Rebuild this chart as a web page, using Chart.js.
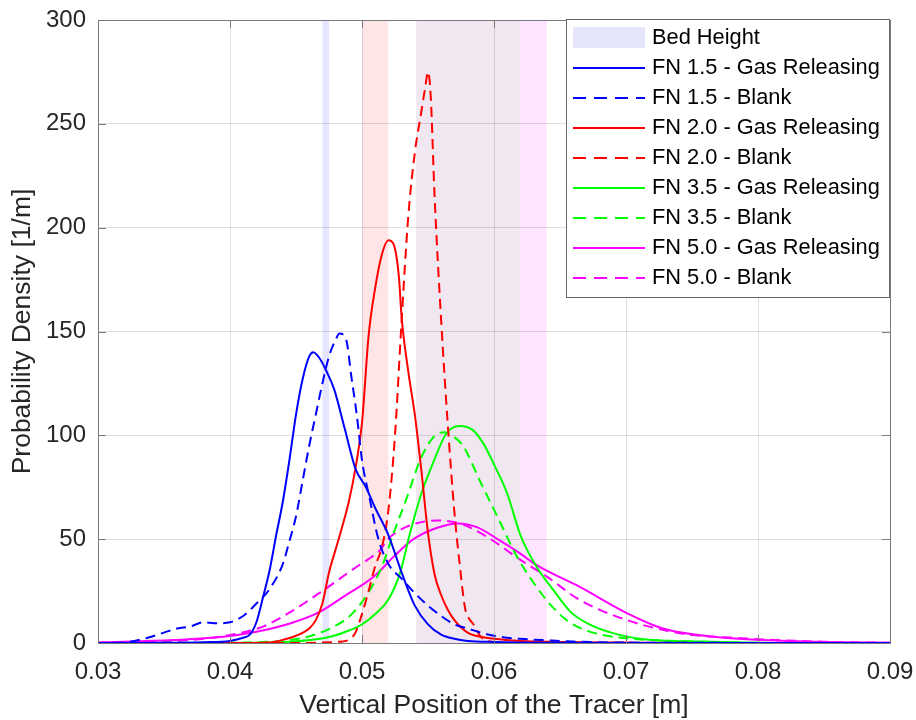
<!DOCTYPE html>
<html>
<head>
<meta charset="utf-8">
<script src="https://cdn.jsdelivr.net/npm/chart.js@4.4.1/dist/chart.umd.min.js"></script>
<style>
  html, body { margin: 0; padding: 0; background: #fff; }
  #wrap { width: 916px; height: 720px; }
</style>
</head>
<body>
<div id="wrap"><canvas id="pdfChart" width="916" height="720"></canvas></div>
<script>
// probability density of tracer vertical position, per FN and case

const fn15GasX = [0.030, 0.035, 0.038, 0.040, 0.041, 0.0415, 0.042, 0.0425, 0.043, 0.0435, 0.044, 0.0445, 0.045, 0.0455, 0.046, 0.0463, 0.0468, 0.0473, 0.0479, 0.0487, 0.0495, 0.0503, 0.051, 0.052, 0.053, 0.054, 0.055, 0.056, 0.057, 0.058, 0.060, 0.065, 0.070, 0.090];
const fn15GasY = [0, 0.1, 0.4, 1, 2.5, 4, 10, 22, 35, 52, 68, 88, 110, 127, 138, 140, 137, 131, 122, 103, 84, 75, 65, 52, 34, 18, 9, 4, 2, 1, 0.5, 0.1, 0, 0];

const fn15BlankX = [0.030, 0.032, 0.0337, 0.035, 0.036, 0.037, 0.038, 0.039, 0.040, 0.041, 0.042, 0.043, 0.044, 0.0445, 0.045, 0.0455, 0.046, 0.0465, 0.047, 0.0475, 0.048, 0.0483, 0.0488, 0.0492, 0.0496, 0.050, 0.0506, 0.0512, 0.052, 0.053, 0.054, 0.055, 0.056, 0.057, 0.058, 0.059, 0.060, 0.061, 0.062, 0.064, 0.066, 0.070, 0.090];
const fn15BlankY = [0, 0.3, 2.4, 5, 7, 8, 10, 9.5, 10, 13, 19, 26, 38, 49, 61, 78, 95, 110, 125, 138, 146, 149, 146, 128, 110, 88, 69, 51, 38, 31, 24, 18, 13, 9, 7, 5, 3.5, 2.5, 2, 1.3, 0.7, 0.2, 0];

const fn20GasX = [0.030, 0.040, 0.043, 0.044, 0.045, 0.046, 0.0465, 0.047, 0.0475, 0.048, 0.0485, 0.049, 0.0495, 0.050, 0.0505, 0.051, 0.0515, 0.052, 0.0524, 0.0528, 0.053, 0.0535, 0.054, 0.0545, 0.055, 0.0555, 0.056, 0.0565, 0.057, 0.058, 0.059, 0.060, 0.062, 0.065, 0.070, 0.075, 0.090];
const fn20GasY = [0, 0, 0.3, 1.5, 3.5, 7, 11, 19, 34, 45, 56, 68, 84, 106, 148, 171, 187, 194, 192, 176, 157, 131, 110, 83, 53, 33, 23, 16, 11, 5, 3, 2, 1, 0.5, 0.2, 0, 0];

const fn20BlankX = [0.030, 0.045, 0.048, 0.049, 0.0495, 0.050, 0.0505, 0.051, 0.0515, 0.052, 0.0525, 0.053, 0.0535, 0.054, 0.0545, 0.0548, 0.0550, 0.0552, 0.0555, 0.056, 0.0565, 0.057, 0.0574, 0.0578, 0.058, 0.0585, 0.059, 0.060, 0.062, 0.090];
const fn20BlankY = [0, 0, 0.5, 1.5, 5, 14, 25, 37, 46, 64, 100, 155, 205, 236, 256, 268, 275, 264, 215, 155, 105, 63, 38, 17, 13, 8.5, 3, 0.5, 0, 0];

const fn35GasX = [0.030, 0.0395, 0.0445, 0.0476, 0.049, 0.050, 0.051, 0.052, 0.0529, 0.0536, 0.0545, 0.0554, 0.0564, 0.0574, 0.0584, 0.0592, 0.060, 0.061, 0.062, 0.0632, 0.0645, 0.0658, 0.0673, 0.0695, 0.072, 0.0766, 0.082, 0.090];
const fn35GasY = [0, 0, 0.6, 3, 6, 9, 14, 21, 34, 52, 72, 87, 101, 104.5, 102.5, 96, 86, 72, 52, 37, 25.5, 15, 8.7, 3.9, 1.4, 0.6, 0, 0];

const fn35BlankX = [0.030, 0.0395, 0.0445, 0.0476, 0.0493, 0.0506, 0.0515, 0.0524, 0.0534, 0.0544, 0.0554, 0.0562, 0.0568, 0.0577, 0.0589, 0.0604, 0.0617, 0.063, 0.0642, 0.0655, 0.067, 0.069, 0.072, 0.0766, 0.082, 0.090];
const fn35BlankY = [0, 0.2, 1.4, 7, 14.4, 25.5, 36.7, 53, 70, 88, 99, 101.5, 100, 94.5, 78.5, 59, 42, 29, 19, 11, 6, 3, 1.4, 0.5, 0, 0];

const fn50GasX = [0.030, 0.0357, 0.0395, 0.042, 0.0446, 0.0468, 0.0486, 0.0509, 0.0524, 0.0539, 0.0557, 0.0573, 0.0587, 0.0604, 0.062, 0.0632, 0.0665, 0.0701, 0.0728, 0.0766, 0.0804, 0.085, 0.090];
const fn50GasY = [0.3, 1.4, 3, 5.4, 9.5, 15, 22.3, 32, 41.6, 50, 55.5, 57.6, 55.8, 49.5, 43, 37.6, 27, 14.3, 7, 3, 1.4, 0.5, 0.1];

const fn50BlankX = [0.030, 0.033, 0.037, 0.040, 0.0425, 0.0446, 0.0471, 0.0496, 0.0504, 0.0514, 0.0519, 0.0534, 0.0557, 0.0574, 0.0595, 0.062, 0.064, 0.0665, 0.0701, 0.0741, 0.0791, 0.085, 0.090];
const fn50BlankY = [0, 0.3, 1.4, 3.9, 7.9, 15, 25.5, 36.7, 40, 45, 49.6, 56, 59, 57.6, 51, 40, 32, 20.7, 11, 4.7, 2.2, 0.6, 0.1];

// bed height ranges (blue, red, magenta, green)
const bedStart = [0.0470, 0.0500, 0.0541, 0.0541];
const bedEnd = [0.0475, 0.0520, 0.0640, 0.0620];

const xTicks = [0.03, 0.04, 0.05, 0.06, 0.07, 0.08, 0.09];
const yTicks = [0, 50, 100, 150, 200, 250, 300];

const bedColors = ['rgba(0,0,255,0.1)', 'rgba(255,0,0,0.1)', 'rgba(255,0,255,0.1)', 'rgba(0,255,0,0.06)'];
const FONT = '"Liberation Sans", Arial, sans-serif';
Chart.defaults.font.family = FONT;

function pts(xs, ys) {
  return xs.map((x, i) => ({ x: x, y: ys[i] }));
}

function line(label, xs, ys, color, dashed) {
  return {
    label: label,
    data: pts(xs, ys),
    borderColor: color,
    backgroundColor: color,
    borderWidth: 2,
    borderDash: dashed ? [10, 6] : [],
    pointRadius: 0,
    fill: false,
    cubicInterpolationMode: 'monotone'
  };
}

const bedBands = {
  id: 'bedBands',
  beforeDraw(chart) {
    const ctx = chart.ctx, xs = chart.scales.x, a = chart.chartArea;
    ctx.save();
    for (let i = 0; i < bedStart.length; i++) {
      const x0 = xs.getPixelForValue(bedStart[i]);
      const x1 = xs.getPixelForValue(bedEnd[i]);
      ctx.fillStyle = bedColors[i];
      ctx.fillRect(x0, a.top, x1 - x0, a.bottom - a.top);
    }
    ctx.restore();
  }
};

const axesBox = {
  id: 'axesBox',
  afterDatasetsDraw(chart) {
    const ctx = chart.ctx, a = chart.chartArea;
    const xs = chart.scales.x, ys = chart.scales.y;
    ctx.save();
    ctx.strokeStyle = '#7a7a7a';
    ctx.lineWidth = 1;
    ctx.beginPath();
    xTicks.forEach(v => {
      const px = Math.round(xs.getPixelForValue(v)) + 0.5;
      ctx.moveTo(px, a.bottom); ctx.lineTo(px, a.bottom - 8);
      ctx.moveTo(px, a.top); ctx.lineTo(px, a.top + 8);
    });
    yTicks.forEach(v => {
      const py = Math.round(ys.getPixelForValue(v)) + 0.5;
      ctx.moveTo(a.left, py); ctx.lineTo(a.left + 8, py);
      ctx.moveTo(a.right, py); ctx.lineTo(a.right - 8, py);
    });
    ctx.stroke();
    ctx.strokeRect(Math.round(a.left) + 0.5, Math.round(a.top) + 0.5, Math.round(a.right - a.left), Math.round(a.bottom - a.top));
    ctx.restore();
  }
};

const boxLegend = {
  id: 'boxLegend',
  afterDraw(chart) {
    const ctx = chart.ctx, a = chart.chartArea;
    const w = 323, h = 278;
    const left = a.right - w - 1, top = a.top - 1;
    ctx.save();
    ctx.fillStyle = '#fff';
    ctx.fillRect(left, top, w, h);
    ctx.strokeStyle = '#666';
    ctx.lineWidth = 1;
    ctx.strokeRect(left + 0.5, top + 0.5, w, h);
    ctx.font = '21.8px ' + FONT;
    ctx.textBaseline = 'middle';
    const sx = left + 7, sw = 72, tx = left + 86;
    let y = top + 19;
    ctx.fillStyle = 'rgb(230,230,250)';
    ctx.fillRect(sx, y - 11, sw, 21);
    ctx.fillStyle = '#000';
    ctx.fillText('Bed Height', tx, y);
    chart.data.datasets.forEach(ds => {
      y += 30;
      ctx.strokeStyle = ds.borderColor;
      ctx.lineWidth = 2;
      ctx.setLineDash(ds.borderDash.length ? [13, 8] : []);
      ctx.beginPath();
      ctx.moveTo(sx, y); ctx.lineTo(sx + sw, y);
      ctx.stroke();
      ctx.setLineDash([]);
      ctx.fillStyle = '#000';
      ctx.fillText(ds.label, tx, y);
    });
    ctx.restore();
  }
};

new Chart(document.getElementById('pdfChart'), {
  type: 'line',
  data: {
    datasets: [
      line('FN 1.5 - Gas Releasing', fn15GasX, fn15GasY, '#0000ff', false),
      line('FN 1.5 - Blank', fn15BlankX, fn15BlankY, '#0000ff', true),
      line('FN 2.0 - Gas Releasing', fn20GasX, fn20GasY, '#ff0000', false),
      line('FN 2.0 - Blank', fn20BlankX, fn20BlankY, '#ff0000', true),
      line('FN 3.5 - Gas Releasing', fn35GasX, fn35GasY, '#00ff00', false),
      line('FN 3.5 - Blank', fn35BlankX, fn35BlankY, '#00ff00', true),
      line('FN 5.0 - Gas Releasing', fn50GasX, fn50GasY, '#ff00ff', false),
      line('FN 5.0 - Blank', fn50BlankX, fn50BlankY, '#ff00ff', true)
    ]
  },
  options: {
    responsive: false,
    animation: false,
    layout: { padding: { top: 20, right: 26, left: 0, bottom: 0 } },
    plugins: {
      legend: { display: false },
      tooltip: { enabled: false }
    },
    scales: {
      x: {
        type: 'linear',
        min: 0.03,
        max: 0.09,
        afterFit(s) { s.height = 77; },
        afterBuildTicks(s) { s.ticks = xTicks.map(v => ({ value: v })); },
        ticks: {
          callback: v => v.toFixed(2),
          font: { size: 24 },
          color: '#262626',
          padding: 0,
          maxRotation: 0,
          autoSkip: false
        },
        grid: { color: 'rgba(38,38,38,0.15)', drawTicks: true, tickLength: 15, tickColor: 'rgba(0,0,0,0)' },
        border: { display: false },
        title: {
          display: true,
          text: 'Vertical Position of the Tracer [m]',
          font: { size: 26.5, lineHeight: 1 },
          color: '#262626',
          padding: { top: 0, bottom: 1 }
        }
      },
      y: {
        min: 0,
        max: 300,
        afterFit(s) { s.width = 98; },
        afterBuildTicks(s) { s.ticks = yTicks.map(v => ({ value: v })); },
        ticks: {
          font: { size: 24 },
          color: '#262626',
          padding: 0
        },
        grid: { color: 'rgba(38,38,38,0.15)', drawTicks: true, tickLength: 12, tickColor: 'rgba(0,0,0,0)' },
        border: { display: false },
        title: {
          display: true,
          text: 'Probability Density [1/m]',
          font: { size: 26.5 },
          color: '#262626',
          padding: { top: 7, bottom: 0 }
        }
      }
    }
  },
  plugins: [bedBands, axesBox, boxLegend]
});
</script>
</body>
</html>
